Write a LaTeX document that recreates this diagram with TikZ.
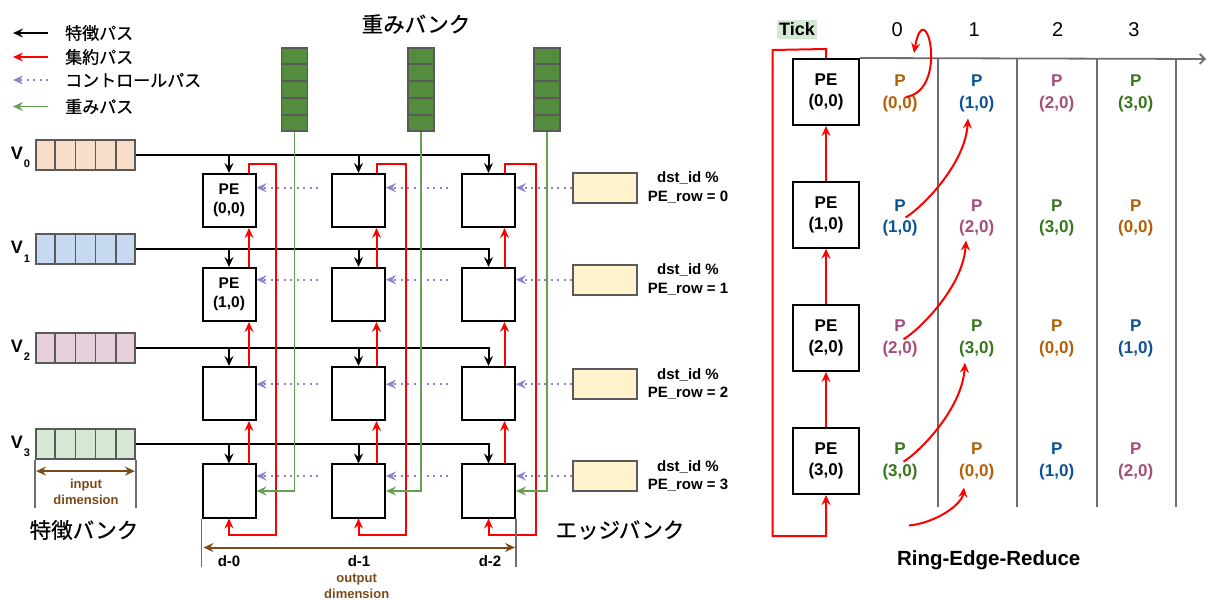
\documentclass[tikz,border=0pt]{standalone}
\usepackage{fontspec}
\setmainfont{Liberation Sans}
\newfontfamily\jpfont[FakeBold=0.6]{Noto Sans CJK JP}
\usetikzlibrary{arrows.meta,calc}
\definecolor{myred}{RGB}{255,0,0}
\definecolor{mypurple}{RGB}{140,130,208}
\definecolor{mygreen}{RGB}{100,160,80}
\definecolor{bankgreen}{RGB}{82,140,60}
\definecolor{bankedge}{RGB}{90,90,90}
\definecolor{brownc}{RGB}{122,75,25}
\definecolor{vA}{RGB}{248,222,200}
\definecolor{vB}{RGB}{198,217,240}
\definecolor{vC}{RGB}{230,208,222}
\definecolor{vD}{RGB}{213,232,212}
\definecolor{edgefill}{RGB}{255,242,204}
\definecolor{tickbg}{RGB}{213,232,212}
\definecolor{axisgray}{RGB}{110,110,110}
\definecolor{pc0}{RGB}{180,95,6}
\definecolor{pc1}{RGB}{11,83,148}
\definecolor{pc2}{RGB}{166,77,121}
\definecolor{pc3}{RGB}{56,118,29}
\tikzset{
  tip/.style={-{Stealth[length=10pt,width=9pt,inset=3.5pt]}},
  feat/.style={black, line width=2pt},
  aggr/.style={myred, line width=2pt},
  ctrl/.style={mypurple, line width=2.2pt, dash pattern=on 2pt off 4.5pt},
  wt/.style={mygreen, line width=1.8pt},
  pebox/.style={draw=black, fill=white, line width=2pt, minimum width=53pt, minimum height=53pt, inner sep=0pt},
  petext/.style={font=\bfseries\fontsize{15.5}{19}\selectfont, align=center, inner sep=0pt},
  rpebox/.style={draw=black, fill=white, line width=2pt, minimum width=66pt, minimum height=66pt, inner sep=0pt, font=\bfseries\fontsize{17}{21.5}\selectfont, align=center},
  plabel/.style={font=\bfseries\fontsize{17}{21.5}\selectfont, align=center, inner sep=0pt},
  wbank/.style={draw=bankedge, fill=bankgreen, line width=1.8pt, minimum width=26pt, minimum height=83pt, inner sep=0pt},
  wline/.style={draw=bankedge, line width=1.6pt},
  fbank/.style={draw=bankedge, line width=1.8pt, minimum width=99pt, minimum height=30pt, inner sep=0pt},
  fline/.style={draw=bankedge, line width=1.6pt},
  ebank/.style={draw=bankedge, fill=edgefill, line width=1.8pt, minimum width=64pt, minimum height=30pt, inner sep=0pt},
  elab/.style={font=\bfseries\fontsize{15}{18.5}\selectfont, align=center, inner sep=0pt},
  legtext/.style={anchor=west, inner sep=0pt, font=\jpfont\fontsize{17}{17}\selectfont},
  title/.style={inner sep=0pt, font=\jpfont\fontsize{21.5}{22}\selectfont},
  vlab/.style={inner sep=0pt, font=\bfseries\fontsize{18}{18}\selectfont},
  vsub/.style={inner sep=0pt, font=\bfseries\fontsize{11}{11}\selectfont},
  dlab/.style={inner sep=0pt, font=\bfseries\fontsize{15}{15}\selectfont},
  brlab/.style={inner sep=0pt, align=center, text=brownc, font=\bfseries\fontsize{13}{16}\selectfont},
  gline/.style={draw=axisgray, line width=1.6pt},
  dimarrow/.style={draw=brownc, line width=2pt, {Stealth[length=10pt,width=9pt,inset=3.5pt]}-{Stealth[length=10pt,width=9pt,inset=3.5pt]}},
  axisline/.style={draw=axisgray, line width=1.8pt, -{Straight Barb[length=5pt,width=10pt]}},
  sepline/.style={draw=axisgray, line width=1.8pt},
  numlab/.style={font=\fontsize{20}{20}\selectfont, inner sep=0pt},
}
\begin{document}
\begin{tikzpicture}[x=1pt,y=-1pt]
\fill[white] (0,0) rectangle (1208,601);
\useasboundingbox (0,0) rectangle (1208,601);

% ---------- legend ----------
\node[legtext] (lg0) at (65,33) {特徴パス};
\node[legtext] (lg1) at (65,57) {集約パス};
\node[legtext] (lg2) at (65,80) {コントロールパス};
\node[legtext] (lg3) at (65,106.5) {重みパス};
\draw[feat,tip] ([xshift=-17pt]lg0.west) -- ([xshift=-52pt]lg0.west);
\draw[aggr,tip] ([xshift=-17pt]lg1.west) -- ([xshift=-52pt]lg1.west);
\draw[ctrl,tip] ([xshift=-17pt]lg2.west) -- ([xshift=-52pt]lg2.west);
\draw[wt,tip] ([xshift=-17pt]lg3.west) -- ([xshift=-52pt]lg3.west);

% ---------- titles ----------
\node[title] (tW) at (416,24) {重みバンク};
\node[title] (tF) at (84,530) {特徴バンク};
\node[title] (tE) at (620,530) {エッジバンク};

% ---------- weight banks ----------
\foreach \c/\x in {0/294.5,1/420.7,2/547} {
  \node[wbank] (W\c) at (\x,89.5) {};
  \foreach \k in {1,...,4}
    \draw[wline] ($(W\c.north west)!0.2*\k!(W\c.south west)$) -- ($(W\c.north east)!0.2*\k!(W\c.south east)$);
}

% ---------- feature banks ----------
\foreach \r/\y/\col in {0/155/vA,1/249.3/vB,2/347.7/vC,3/444.2/vD} {
  \node[fbank, fill=\col] (V\r) at (85.5,\y) {};
  \foreach \k in {1,...,4}
    \draw[fline] ($(V\r.north west)!0.2*\k!(V\r.north east)$) -- ($(V\r.south west)!0.2*\k!(V\r.south east)$);
  \node[vlab] (VL\r) at (17,\y-1.5) {V};
  \node[vsub] (VS\r) at (27,\y+9) {\r};
}

% ---------- edge banks ----------
\foreach \r/\y in {0/187.7,1/279.7,2/384.2,3/476} {
  \node[ebank] (E\r) at (605,\y) {};
  \node[elab] (EL\r) at (688,\y) {dst\_id \%\\PE\_row = \r};
}

% ---------- PE grid ----------
\foreach \r/\y in {0/200.5,1/294.5,2/393.5,3/491}
  \foreach \c/\x in {0/229,1/358.5,2/488.5}
    \node[pebox] (PE-\r-\c) at (\x,\y) {};
\node[petext] (PT0) at (PE-0-0) {PE\\(0,0)};
\node[petext] (PT1) at (PE-1-0) {PE\\(1,0)};

% feature paths
\foreach \r in {0,...,3} {
  \draw[feat,tip] (V\r.east) -| (PE-\r-2.north);
  \draw[feat,tip] (PE-\r-0.north |- V\r.east) -- (PE-\r-0.north);
  \draw[feat,tip] (PE-\r-1.north |- V\r.east) -- (PE-\r-1.north);
}

% aggregation paths
\foreach \c/\x/\dx in {0/229/20,1/358.5/18,2/488.5/16} {
  \foreach \r/\p in {1/0,2/1,3/2}
    \draw[aggr,tip] ([xshift=\dx pt]PE-\r-\c.north) -- ([xshift=\dx pt]PE-\p-\c.south);
  \draw[aggr,tip] ([xshift=\dx pt]PE-0-\c.north) -- (\x+\dx,164) -- (\x+47,164) -- (\x+47,535) -- (\x,535) -- (PE-3-\c.south);
}

% weight paths
\foreach \c in {0,1,2}
  \draw[wt,tip] (W\c.south) |- (PE-3-\c.east);

% control paths
\foreach \r in {0,...,3} {
  \draw[ctrl,tip] (E\r.west) -- (PE-\r-2.east |- E\r.west);
  \draw[ctrl,tip] ($(PE-\r-2.west |- E\r.west)+(-13,0)$) -- (PE-\r-1.east |- E\r.west);
  \draw[ctrl,tip] ($(PE-\r-1.west |- E\r.west)+(-13,0)$) -- (PE-\r-0.east |- E\r.west);
}

% dimensions
\draw[gline] (PE-3-0.south west) -- ++(0,48);
\draw[gline] (PE-3-2.south east) -- ++(0,48);
\draw[dimarrow] ($(PE-3-0.south west)+(2,29)$) -- ($(PE-3-2.south east)+(-1,29)$);
\node[dlab] (d0) at (229,561) {d-0};
\node[dlab] (d1) at (359,561) {d-1};
\node[dlab] (d2) at (490,561) {d-2};
\node[brlab] (od) at (356.7,586.7) {output\\dimension};

\draw[gline] (V3.south west) -- ++(0,47.5);
\draw[gline] (V3.south east) -- ++(0,47.5);
\draw[dimarrow] ($(V3.south west)+(1,11)$) -- ($(V3.south east)+(-1,11)$);
\node[brlab] (id) at (86,492.2) {input\\dimension};

% ---------- Ring-Edge-Reduce ----------
\node[rpebox] (R0) at (826,92) {PE\\(0,0)};
\node[rpebox] (R1) at (826,214.7) {PE\\(1,0)};
\node[rpebox] (R2) at (826,338) {PE\\(2,0)};
\node[rpebox] (R3) at (826,461) {PE\\(3,0)};
\draw[aggr,tip] (R1.north) -- (R0.south);
\draw[aggr,tip] (R2.north) -- (R1.south);
\draw[aggr,tip] (R3.north) -- (R2.south);
\draw[aggr,tip] (R0.north) -- ++(0,-9) -- (772.7,50) -- (772.7,536) -- (826,536) -- (R3.south);

\draw[axisline] (R0.north east) -- (1206,59);
\foreach \x in {938.3,1017.3,1096.7,1176}
  \draw[sepline] (\x,59) -- (\x,507);

\node[fill=tickbg, inner xsep=2pt, inner ysep=3pt, font=\bfseries\fontsize{18}{18}\selectfont] (tick) at (797,29.5) {Tick};
\node[numlab] (n0) at (897.3,29.3) {0};
\node[numlab] (n1) at (974.3,29.3) {1};
\node[numlab] (n2) at (1057.7,29.3) {2};
\node[numlab] (n3) at (1134,29.3) {3};

\foreach \r/\y in {0/93.2,1/217.8,2/338.2,3/461.4}
  \foreach \c/\x in {0/900,1/976.7,2/1056.7,3/1135.7} {
    \pgfmathtruncatemacro\k{mod(\r+\c,4)}
    \node[plabel, text=pc\k] (P-\r-\c) at (\x,\y) {P\\(\k,0)};
  }

% curves
\coordinate (c0s) at (906,97);
\coordinate (c0e) at (914,53);
\draw[aggr,tip] (c0s) .. controls (950,90) and (925,-10) .. (c0e);
\coordinate (s1) at (905.5,217.5);
\coordinate (t1) at (968,118.5);
\coordinate (s2) at (903.5,339.3);
\coordinate (t2) at (966,240.5);
\coordinate (s3) at (903.5,461.7);
\coordinate (t3) at (965,362.7);
\foreach \i in {1,2,3}
  \draw[aggr,tip] (s\i) .. controls ($(s\i)+(15,-9)$) and ($(t\i)+(-3,47)$) .. (t\i);
\coordinate (s4) at (909,525.5);
\coordinate (t4) at (964,487.5);
\draw[aggr,tip] (s4) .. controls (935,523) and (962,505) .. (t4);

\node[inner sep=0pt, font=\bfseries\fontsize{20.5}{21}\selectfont] (ring) at (988.7,560) {Ring-Edge-Reduce};
\end{tikzpicture}
\end{document}
